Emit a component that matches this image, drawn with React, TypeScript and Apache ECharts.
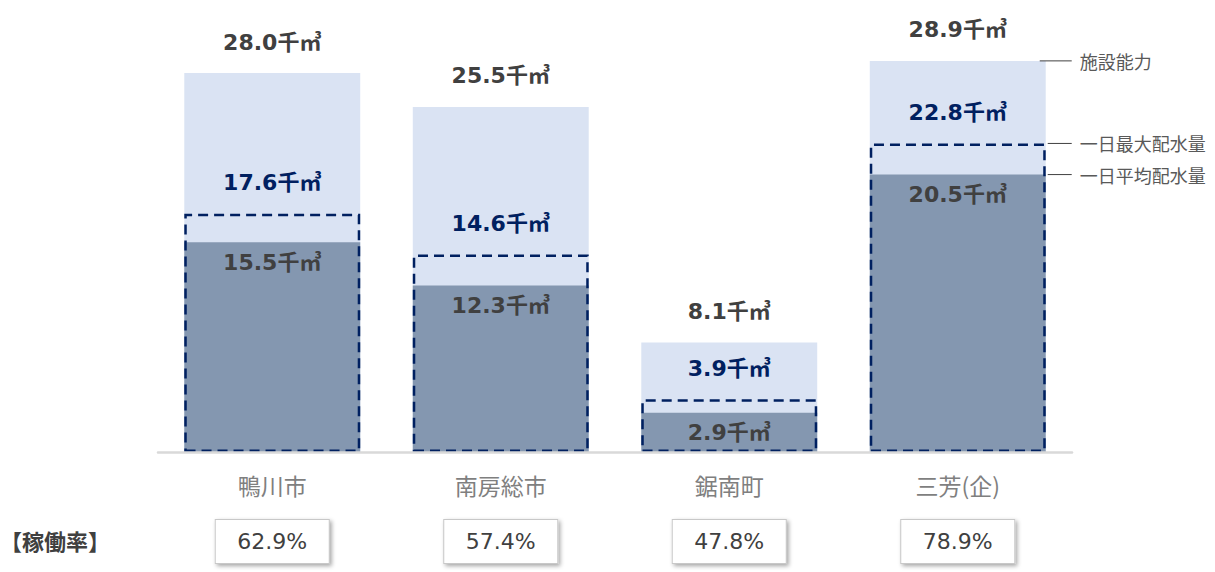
import React, { useEffect, useRef } from "react";
import * as echarts from "echarts";

const categories = ["鴨川市", "南房総市", "鋸南町", "三芳(企)"];
const capacity = [28.0, 25.5, 8.1, 28.9];
const maxDaily = [17.6, 14.6, 3.9, 22.8];
const avgDaily = [15.5, 12.3, 2.9, 20.5];
const rates = ["62.9%", "57.4%", "47.8%", "78.9%"];
const legendNames = ["施設能力", "一日最大配水量", "一日平均配水量"];
const rateTitle = "【稼働率】";

const FONT = "'DejaVu Sans', 'Noto Sans CJK JP', sans-serif";
const CJK = "'Noto Sans CJK JP', sans-serif";
const fmt = (p: any) => Number(p.value).toFixed(1) + "千㎥";

export default function App() {
  const ref = useRef<HTMLDivElement>(null);
  useEffect(() => {
    const chart = echarts.init(ref.current!, null, { renderer: "svg" });
    const option: any = {
      animation: false,
      backgroundColor: "#ffffff",
      textStyle: { fontFamily: FONT },
      grid: { left: 158, right: 143, top: 46, bottom: 120 },
      xAxis: [
        {
          type: "category",
          data: categories,
          z: 5,
          axisLine: { lineStyle: { color: "#d9d9d9", width: 2.5 } },
          axisTick: { show: false },
          axisLabel: { color: "#7f7f7f", fontSize: 23, margin: 21, fontFamily: CJK },
        },
        {
          type: "category",
          data: rates,
          position: "bottom",
          offset: 60,
          axisLine: { show: false },
          axisTick: { show: false },
          axisLabel: {
            margin: 8,
            color: "#404040",
            fontSize: 22,
            fontFamily: FONT,
            width: 113,
            height: 43,
            lineHeight: 43,
            align: "center",
            backgroundColor: "#ffffff",
            borderColor: "#c8c8c8",
            borderWidth: 1,
            shadowColor: "rgba(0,0,0,0.35)",
            shadowBlur: 4,
            shadowOffsetX: 2,
            shadowOffsetY: 2,
          },
        },
      ],
      yAxis: {
        type: "value",
        min: 0,
        max: 30,
        show: false,
        splitLine: { show: false },
      },
      series: [
        {
          name: legendNames[0],
          type: "bar",
          data: capacity,
          barCategoryGap: "23%",
          barGap: "-100%",
          itemStyle: { color: "#dae3f3" },
          label: {
            show: true,
            position: "top",
            distance: 20,
            formatter: fmt,
            color: "#404040",
            fontWeight: "bold",
            fontSize: 22,
            fontFamily: FONT,
          },
        },
        {
          name: legendNames[2],
          type: "bar",
          data: avgDaily,
          barCategoryGap: "23%",
          barGap: "-100%",
          itemStyle: { color: "#8497b0" },
          label: {
            show: true,
            position: "insideTop",
            distance: 9,
            formatter: fmt,
            color: "#404040",
            fontWeight: "bold",
            fontSize: 22,
            fontFamily: FONT,
          },
        },
        {
          name: legendNames[1],
          type: "bar",
          data: maxDaily,
          barCategoryGap: "23%",
          barGap: "-100%",
          itemStyle: {
            color: "rgba(0,0,0,0)",
            borderColor: "#002060",
            borderWidth: 2.5,
            borderType: [10, 6],
          },
          label: {
            show: true,
            position: "top",
            distance: 20,
            formatter: fmt,
            color: "#002060",
            fontWeight: "bold",
            fontSize: 22,
            fontFamily: FONT,
          },
        },
      ],
    };
    chart.setOption(option);

    const last = categories.length - 1;
    const c0 = chart.convertToPixel({ xAxisIndex: 0, yAxisIndex: 0 }, [0, 0]) as number[];
    const c1 = chart.convertToPixel({ xAxisIndex: 0, yAxisIndex: 0 }, [1, 0]) as number[];
    const half = ((c1[0] - c0[0]) * 0.77) / 2;
    const pCap = chart.convertToPixel({ xAxisIndex: 0, yAxisIndex: 0 }, [last, capacity[last]]) as number[];
    const pMax = chart.convertToPixel({ xAxisIndex: 0, yAxisIndex: 0 }, [last, maxDaily[last]]) as number[];
    const pAvg = chart.convertToPixel({ xAxisIndex: 0, yAxisIndex: 0 }, [last, avgDaily[last]]) as number[];
    const right = pCap[0] + half;
    const lineStyle = { stroke: "#404040", lineWidth: 1 };
    const textStyle = (t: string) => ({
      text: t,
      fill: "#595959",
      fontSize: 18,
      fontFamily: CJK,
      verticalAlign: "middle",
    });
    const items = [
      { y: pCap[1], x1: right - 6, name: legendNames[0] },
      { y: pMax[1], x1: right + 2, name: legendNames[1] },
      { y: pAvg[1], x1: right + 2, name: legendNames[2] },
    ];
    const graphic: any[] = [];
    items.forEach((it) => {
      graphic.push({
        type: "line",
        shape: { x1: it.x1, y1: it.y, x2: right + 26, y2: it.y },
        style: lineStyle,
        z: 10,
      });
      graphic.push({
        type: "text",
        x: right + 34,
        y: it.y,
        style: textStyle(it.name),
        z: 10,
      });
    });
    graphic.push({
      type: "text",
      x: 0,
      y: 540,
      style: {
        text: rateTitle,
        fill: "#404040",
        fontSize: 22,
        fontWeight: "bold",
        fontFamily: CJK,
        verticalAlign: "middle",
      },
    });
    chart.setOption({ graphic });

    return () => chart.dispose();
  }, []);
  return (
    <div
      ref={ref}
      style={{ position: "fixed", left: 0, top: 0, width: 1215, height: 572 }}
    />
  );
}
